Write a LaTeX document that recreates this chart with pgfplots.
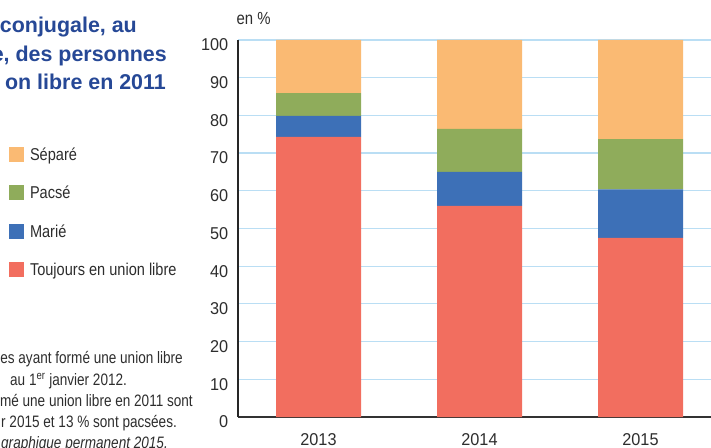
\documentclass[border=0pt]{standalone}
\usepackage{pgfplots}
\pgfplotsset{compat=1.18}
\usepackage{fontspec}
\setmainfont{Liberation Sans}[FakeStretch=0.82]
\newfontfamily\legfont{Liberation Sans}[FakeStretch=0.85]
\newfontfamily\tickfont{Liberation Sans}[FakeStretch=0.95]
\newfontfamily\titlefont{Liberation Sans}
\definecolor{cRed}{RGB}{242,110,95}
\definecolor{cBlue}{RGB}{61,112,183}
\definecolor{cGreen}{RGB}{143,172,91}
\definecolor{cOrange}{RGB}{250,186,115}
\definecolor{gridblue}{RGB}{186,222,244}
\definecolor{titleblue}{RGB}{38,72,150}
\definecolor{txt}{RGB}{45,45,45}
\begin{document}
\begin{tikzpicture}
\useasboundingbox (0,0) rectangle (711bp,448bp);
\begin{axis}[
  at={(238bp,31bp)}, anchor=south west,
  scale only axis, width=483bp, height=377bp,
  xmin=-0.5, xmax=2.5, ymin=0, ymax=100,
  ybar stacked, bar width=85bp,
  axis x line=bottom, axis y line=left,
  x axis line style={-, draw=black!80, line width=1.4bp},
  y axis line style={-, draw=black!85, line width=1.8bp},
  xtick={0,1,2}, xticklabels={2013,2014,2015},
  ytick={0,10,...,100},
  major tick length=0pt,
  ymajorgrids, grid style={draw=gridblue, line width=1.2bp},
  tick label style={font=\fontsize{17.2}{17.2}\tickfont, text=txt},
  /pgf/number format/assume math mode=true,
  yticklabel style={anchor=east, inner sep=0pt, xshift=-9.5bp, yshift=-5bp},
  xticklabel style={anchor=north, inner sep=0pt, yshift=-16.5bp},
  legend cell align=left,
  reverse legend,
  legend style={draw=none, fill=none,
    at={(axis description cs:-0.4741,0.7202)}, anchor=north west,
    inner sep=0pt, outer sep=0pt, row sep=20.3bp, column sep=6bp,
    font=\fontsize{17.2}{17.2}\legfont, text=txt,
    nodes={inner sep=0pt, text height=15bp, text depth=3bp}},
]
\addplot[fill=cRed, draw=none, legend image code/.code={\fill[cRed] (0bp,-7.5bp) rectangle (15bp,7.5bp);}]
  coordinates {(0,74.3) (1,56.0) (2,47.5)};
\addlegendentry{Toujours en union libre}
\addplot[fill=cBlue, draw=none, legend image code/.code={\fill[cBlue] (0bp,-7.5bp) rectangle (15bp,7.5bp);}]
  coordinates {(0,5.6) (1,9.0) (2,12.9)};
\addlegendentry{Marié}
\addplot[fill=cGreen, draw=none, legend image code/.code={\fill[cGreen] (0bp,-7.5bp) rectangle (15bp,7.5bp);}]
  coordinates {(0,6.0) (1,11.4) (2,13.3)};
\addlegendentry{Pacsé}
\addplot[fill=cOrange, draw=none, legend image code/.code={\fill[cOrange] (0bp,-7.5bp) rectangle (15bp,7.5bp);}]
  coordinates {(0,14.1) (1,23.6) (2,26.3)};
\addlegendentry{Séparé}
\end{axis}
\node[anchor=base west, inner sep=0pt, text=txt, font=\fontsize{17.6}{17.6}\legfont] at (236.5bp,423bp) {en \%};
\begin{scope}[every node/.style={anchor=base east, inner sep=0pt, text=titleblue, font=\fontsize{21.5}{21.5}\titlefont\bfseries}]
\node at (137bp,415bp) {conjugale, au};
\node at (167bp,386.3bp) {e, des personnes};
\node at (166bp,358bp) {on libre en 2011};
\end{scope}
\begin{scope}[every node/.style={inner sep=0pt, text=txt, font=\fontsize{16.6}{16.6}\selectfont}]
\node[anchor=base east] at (183bp,84bp) {es ayant formé une union libre};
\node[anchor=base west] at (10bp,62.5bp) {au 1\textsuperscript{er} janvier 2012.};
\node[anchor=base east] at (193bp,41.5bp) {mé une union libre en 2011 sont};
\node[anchor=base west] at (1bp,20.7bp) {r 2015 et 13 \% sont pacsées.};
\node[anchor=base west] at (1bp,0bp) {\itshape graphique permanent 2015.};
\end{scope}
\end{tikzpicture}
\end{document}
